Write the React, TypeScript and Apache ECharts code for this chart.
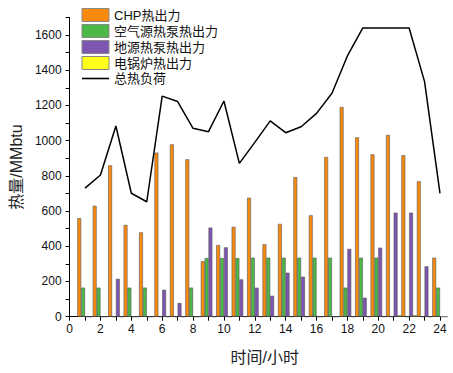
import React, { useEffect, useRef } from "react";
import * as echarts from "echarts";

const hours = [1, 2, 3, 4, 5, 6, 7, 8, 9, 10, 11, 12, 13, 14, 15, 16, 17, 18, 19, 20, 21, 22, 23, 24];
const chp = [560, 630, 860, 521, 479, 932, 979, 894, 315, 407, 510, 676, 411, 527, 793, 576, 907, 1191, 1019, 922, 1032, 917, 769, 335];
const airHP = [165, 165, 0, 165, 165, 0, 0, 165, 333, 333, 333, 335, 335, 335, 335, 335, 335, 165, 335, 335, 0, 0, 0, 165];
const groundHP = [0, 0, 215, 0, 0, 153, 78, 0, 506, 394, 212, 165, 119, 250, 227, 0, 0, 385, 108, 392, 591, 591, 286, 0];
const boiler = [0, 0, 0, 0, 0, 0, 0, 0, 0, 0, 0, 0, 0, 0, 0, 0, 0, 0, 0, 0, 8, 8, 0, 0];
const totalLoad = [730, 805, 1083, 701, 653, 1253, 1222, 1070, 1051, 1225, 871, 990, 1112, 1045, 1079, 1155, 1269, 1481, 1640, 1640, 1640, 1640, 1335, 700];

const seriesNames = ["CHP热出力", "空气源热泵热出力", "地源热泵热出力", "电锅炉热出力", "总热负荷"];
const barColors = ["#FA8A0E", "#4CB848", "#7D56B2", "#FFFF1A"];

const FONT = 'Arial, "Liberation Sans", "Noto Sans CJK SC", sans-serif';

export default function App() {
  const ref = useRef<HTMLDivElement>(null);
  useEffect(() => {
    if (!ref.current) return;
    const chart = echarts.init(ref.current, undefined, { renderer: "svg" });
    const barSets = [chp, airHP, groundHP, boiler];
    const bars = barSets.map((arr, i) => ({
      name: seriesNames[i],
      type: "bar",
      data: hours.map((h, j) => [h, arr[j]]),
      barWidth: 3.85,
      barGap: "0%",
      itemStyle: { color: barColors[i], borderColor: "#555", borderWidth: 0.6 },
    }));
    chart.setOption({
      animation: false,
      backgroundColor: "#fff",
      textStyle: { fontFamily: FONT },
      grid: { left: 68.5, right: 13, top: 17.4, bottom: 56.3, containLabel: false },
      legend: {
        orient: "vertical",
        left: 81.5,
        top: 8,
        padding: 0,
        itemGap: 2,
        itemWidth: 27,
        itemHeight: 13,
        data: seriesNames.map((n, i) =>
          i < 4
            ? { name: n, icon: "rect", itemStyle: { borderColor: "#888", borderWidth: 1 } }
            : { name: n, icon: "path://M0,0 L27,0 L27,1.6 L0,1.6 Z", itemStyle: { color: "#000" } }
        ),
        textStyle: { fontSize: 13, color: "#111", fontFamily: FONT },
      },
      xAxis: {
        type: "value",
        min: 0,
        max: 24,
        interval: 1,
        name: "时间/小时",
        nameLocation: "middle",
        nameGap: 33,
        nameTextStyle: { fontSize: 16, color: "#222", padding: [0, 0, 0, 20] },
        axisLine: { show: true, lineStyle: { color: "#000", width: 1 } },
        axisTick: { show: true, length: 4, lineStyle: { color: "#000" } },
        axisLabel: {
          fontSize: 12,
          color: "#111",
          margin: 6,
          formatter: (v: number) => (v % 2 === 0 ? String(v) : ""),
        },
        splitLine: { show: false },
      },
      yAxis: {
        type: "value",
        min: 0,
        max: 1700,
        interval: 100,
        name: "热量/MMbtu",
        nameLocation: "middle",
        nameGap: 43,
        nameTextStyle: { fontSize: 16, color: "#222" },
        axisLine: { show: true, lineStyle: { color: "#000", width: 1 } },
        axisTick: { show: true, length: 4, lineStyle: { color: "#000" } },
        axisLabel: {
          fontSize: 12,
          color: "#111",
          margin: 8,
          formatter: (v: number) => (v % 200 === 0 ? String(v) : ""),
        },
        splitLine: { show: false },
      },
      series: [
        ...bars,
        {
          name: seriesNames[4],
          type: "line",
          data: hours.map((h, j) => [h, totalLoad[j]]),
          symbol: "none",
          lineStyle: { color: "#000", width: 1.5 },
          itemStyle: { color: "#000" },
        },
      ],
    });
    return () => chart.dispose();
  }, []);
  return (
    <div
      ref={ref}
      style={{ position: "fixed", left: 0, top: 0, width: 453, height: 373, background: "#fff" }}
    />
  );
}
